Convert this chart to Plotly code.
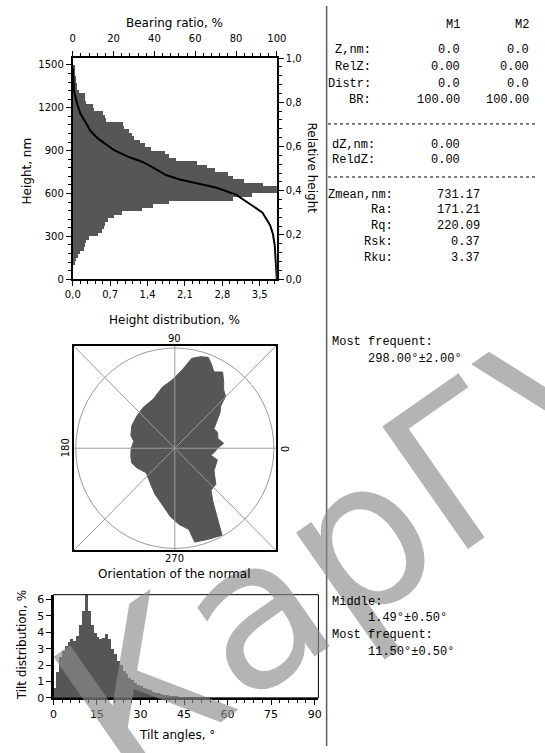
import numpy as np
import plotly.graph_objects as go

W, H = 545, 753
GRAY = "#565656"
FONT = "DejaVu Sans"
MONO = "Liberation Mono"

# ---------------- data ----------------
# Height distribution: 25 nm bins (bin centres, nm) and share of points, %
height_nm = [112.5, 137.5, 162.5, 187.5, 212.5, 237.5, 262.5, 287.5, 312.5, 337.5,
             362.5, 387.5, 412.5, 437.5, 462.5, 487.5, 512.5, 537.5, 562.5, 587.5,
             612.5, 637.5, 662.5, 687.5, 712.5, 737.5, 762.5, 787.5, 812.5, 837.5,
             862.5, 887.5, 912.5, 937.5, 962.5, 987.5, 1012.5, 1037.5, 1062.5, 1087.5,
             1112.5, 1137.5, 1162.5, 1187.5, 1212.5, 1237.5, 1262.5, 1287.5, 1312.5, 1337.5,
             1362.5, 1387.5, 1412.5, 1437.5, 1462.5, 1487.5]
height_distr = [0.03, 0.05, 0.10, 0.13, 0.20, 0.22, 0.24, 0.30, 0.47, 0.55,
                0.58, 0.60, 0.66, 0.76, 0.92, 1.30, 1.50, 1.80, 3.00, 3.35,
                3.95, 3.95, 3.55, 3.20, 3.00, 2.90, 2.65, 2.50, 2.32, 1.92,
                1.80, 1.72, 1.46, 1.35, 1.26, 1.15, 1.10, 1.05, 0.96, 0.93,
                0.62, 0.59, 0.57, 0.40, 0.37, 0.25, 0.23, 0.22, 0.12, 0.08,
                0.07, 0.06, 0.05, 0.04, 0.03, 0.02]

# Bearing ratio curve: ratio (%) vs height (nm)
bearing_ratio = [0, 0.6, 2.2, 3.8, 6.2, 8.6, 12.4, 15.7, 20.5, 26.7, 33.3, 38.1,
                 45.7, 52.0, 59.5, 70.5, 80.0, 86.0, 92.9, 96.7, 98.1, 99.0, 99.5, 100]
bearing_height = [1480, 1316, 1225, 1156, 1101, 1039, 984, 950, 901, 860, 826, 791,
                  729, 700, 674, 640, 592, 537, 468, 378, 316, 234, 120, 0]

# Orientation of the surface normal: outline angle (deg) and relative frequency
orient_deg = [92.0, 84.6, 79.2, 74.0, 69.6, 66.7, 62.6, 57.6, 53.0, 49.9,
              45.3, 42.2, 38.0, 34.0, 30.0, 26.3, 20.0, 12.7, 5.7, 0.0,
              354.0, 349.0, 345.0, 330.4, 319.0, 311.1, 305.7, 301.5, 298.8, 290.6,
              282.1, 279.9, 273.3, 266.3, 261.4, 255.2, 246.4, 237.2, 228.0, 220.3,
              206.9, 198.6, 190.0, 180.0, 170.6, 164.1, 152.7, 140.0, 127.7, 114.2,
              101.2]
orient_freq = [0.683, 0.784, 0.913, 0.950, 0.968, 0.924, 0.858, 0.901, 0.820, 0.765,
               0.728, 0.625, 0.580, 0.524, 0.470, 0.441, 0.460, 0.445, 0.495, 0.434,
               0.400, 0.370, 0.445, 0.455, 0.549, 0.557, 0.660, 0.830, 0.990, 0.970,
               0.958, 0.822, 0.762, 0.684, 0.621, 0.555, 0.500, 0.441, 0.400, 0.378,
               0.432, 0.459, 0.451, 0.440, 0.420, 0.461, 0.489, 0.500, 0.518, 0.535,
               0.626]
orient_labels = ["90", "0", "180", "270"]

# Tilt angle distribution, 1 degree bins
tilt_deg = [0.5, 1.5, 2.5, 3.5, 4.5, 5.5, 6.5, 7.5, 8.5, 9.5,
            10.5, 11.5, 12.5, 13.5, 14.5, 15.5, 16.5, 17.5, 18.5, 19.5,
            20.5, 21.5, 22.5, 23.5, 24.5, 25.5, 26.5, 27.5, 28.5, 29.5,
            30.5, 31.5, 32.5, 33.5, 34.5, 35.5, 36.5, 37.5, 38.5, 39.5,
            40.5, 41.5, 42.5, 43.5, 44.5, 45.5, 46.5, 47.5, 48.5, 49.5,
            50.5, 51.5, 52.5, 53.5, 54.5]
tilt_distr = [0.6, 1.6, 2.5, 2.9, 3.2, 3.45, 3.6, 3.5, 3.8, 4.45,
              5.35, 6.9, 5.35, 4.45, 4.0, 3.75, 3.6, 3.65, 3.9, 3.6,
              3.0, 2.7, 2.25, 2.0, 1.65, 1.45, 1.25, 1.1, 0.9, 0.8,
              0.72, 0.65, 0.58, 0.48, 0.4, 0.34, 0.3, 0.25, 0.22, 0.18,
              0.15, 0.13, 0.11, 0.09, 0.08, 0.07, 0.06, 0.05, 0.04, 0.03,
              0.03, 0.02, 0.02, 0.01, 0.01]

# Marker / statistics readout
marker_header = ["M1", "M2"]
marker_rows = [("Z,nm:", "0.0", "0.0"), ("RelZ:", "0.00", "0.00"),
               ("Distr:", "0.0", "0.0"), ("BR:", "100.00", "100.00")]
diff_rows = [("dZ,nm:", "0.00"), ("ReldZ:", "0.00")]
stat_rows = [("Zmean,nm:", "731.17"), ("Ra:", "171.21"), ("Rq:", "220.09"),
             ("Rsk:", "0.37"), ("Rku:", "3.37")]
orient_text = ["Most frequent:", "298.00°±2.00°"]
tilt_text = ["Middle:", "1.49°±0.50°", "Most frequent:", "11.50°±0.50°"]


def px(x):
    return x / W


def py(y):
    return 1 - y / H


fig = go.Figure()

# height distribution histogram
fig.add_trace(go.Bar(x=height_distr, y=height_nm, orientation="h", width=25,
                     marker=dict(color=GRAY, line=dict(width=0)),
                     xaxis="x", yaxis="y", hoverinfo="skip"))
# bearing ratio curve (top axis vs height)
fig.add_trace(go.Scatter(x=bearing_ratio, y=bearing_height, mode="lines",
                         line=dict(color="black", width=2),
                         xaxis="x2", yaxis="y", hoverinfo="skip"))
# relative height scale (right axis)
fig.add_trace(go.Scatter(x=[0, 1], y=[0, 1], mode="markers", marker=dict(opacity=0),
                         xaxis="x", yaxis="y2", hoverinfo="skip"))

# orientation rose
th = np.radians(np.array(orient_deg + orient_deg[:1]))
rr = np.array(orient_freq + orient_freq[:1])
fig.add_trace(go.Scatter(x=rr * np.cos(th), y=rr * np.sin(th), mode="lines",
                         fill="toself", fillcolor=GRAY,
                         line=dict(color=GRAY, width=1),
                         xaxis="x4", yaxis="y4", hoverinfo="skip"))

# tilt histogram
fig.add_trace(go.Bar(x=tilt_deg, y=tilt_distr, width=1,
                     marker=dict(color=GRAY, line=dict(width=0)),
                     xaxis="x3", yaxis="y3", hoverinfo="skip"))

tickfont = dict(family=FONT, size=10, color="black")
base = dict(showline=True, linecolor="black", linewidth=2, showgrid=False,
            zeroline=False, ticks="outside", tickcolor="black", tickwidth=1,
            ticklen=5, tickfont=tickfont, fixedrange=True)


def minor(d):
    return dict(ticks="outside", ticklen=3, dtick=d, tick0=0, tickcolor="black", tickwidth=1)


fig.update_layout(
    width=W, height=H, margin=dict(l=0, r=0, t=0, b=0),
    paper_bgcolor="white", plot_bgcolor="white", showlegend=False,
    bargap=0, separators=",.",
    xaxis=dict(base, domain=[px(67), px(278)], anchor="y", range=[0, 3.82],
               tick0=0, dtick=0.7, tickformat=".1f", minor=minor(0.14)),
    yaxis=dict(base, domain=[py(278), py(53)], anchor="x", range=[0, 1548],
               tick0=0, dtick=300, minor=minor(60)),
    xaxis2=dict(base, overlaying="x", side="top", anchor="y", range=[0, 100],
                tick0=0, dtick=20, minor=minor(4), ticklabelstandoff=5),
    yaxis2=dict(base, overlaying="y", side="right", anchor="x", range=[0, 1],
                tick0=0, dtick=0.2, tickformat=".1f", minor=minor(0.04)),
    xaxis3=dict(base, domain=[px(47), px(321)], anchor="y3", range=[0, 91.3],
                tick0=0, dtick=15, minor=minor(3), tickfont=dict(tickfont, size=11)),
    yaxis3=dict(base, domain=[py(704), py(599)], anchor="x3", range=[0, 6.3],
                tick0=0, dtick=1, tickfont=dict(tickfont, size=11)),
    xaxis4=dict(domain=[px(68), px(277)], anchor="y4", range=[-1.02, 1.02],
                showline=True, mirror=True, linecolor="black", linewidth=2,
                showgrid=False, zeroline=False, showticklabels=False, ticks="",
                fixedrange=True),
    yaxis4=dict(domain=[py(554), py(346)], anchor="x4", range=[-1.02, 1.02],
                showline=True, mirror=True, linecolor="black", linewidth=2,
                showgrid=False, zeroline=False, showticklabels=False, ticks="",
                fixedrange=True),
)

shapes = []
# thin top/right border of the tilt plot
shapes.append(dict(type="rect", xref="paper", yref="paper", x0=px(47), x1=px(321),
                   y0=py(704), y1=py(599), line=dict(color="black", width=1)))
# rose grid: circle, axes and diagonals
grid = dict(color="#9a9a9a", width=1)
shapes.append(dict(type="circle", xref="x4", yref="y4", x0=-1, y0=-1, x1=1, y1=1, line=grid))
for (a0, b0, a1, b1) in [(-1.02, 0, 1.02, 0), (0, -1.02, 0, 1.02),
                         (-1.02, -1.02, 1.02, 1.02), (-1.02, 1.02, 1.02, -1.02)]:
    shapes.append(dict(type="line", xref="x4", yref="y4", x0=a0, y0=b0, x1=a1, y1=b1, line=grid))
# readout panel separator and dashed dividers
shapes.append(dict(type="line", xref="paper", yref="paper", x0=px(329.5), x1=px(329.5),
                   y0=0, y1=1, line=dict(color="#5a5a5a", width=1.5)))
for yy in (120, 174):
    shapes.append(dict(type="line", xref="paper", yref="paper", x0=px(331), x1=1,
                       y0=py(yy), y1=py(yy), line=dict(color="black", width=1, dash="3px,3px")))
fig.update_layout(shapes=shapes)

ann = []


def text(x, y, s, size=12, angle=0, xa="center", family=FONT, color="black"):
    ann.append(dict(x=px(x), y=py(y), xref="paper", yref="paper", text=s,
                    showarrow=False, xanchor=xa, yanchor="middle", textangle=angle,
                    font=dict(family=family, size=size, color=color)))


# repository watermark (drawn first so the readout text sits on top)
text(352, 549, "КарГУ", size=205, angle=-35, color="rgba(140,140,140,0.65)")

# axis titles
text(172, 17, "Bearing ratio, %")
text(172, 320, "Height distribution, %")
text(20, 168, "Height, nm", angle=-90)
text(314, 165, "Relative height", angle=90)
text(172, 338, orient_labels[0], size=10)
text(286, 450, orient_labels[1], size=10, angle=90)
text(59, 450, orient_labels[2], size=10, angle=-90)
text(172, 562, orient_labels[3], size=10)
text(172, 578, "Orientation of the normal")
text(14, 650, "Tilt distribution, %", angle=-90)
text(175, 742, "Tilt angles, °")

# readout panel
MS = 12
text(470, 19, marker_header[0], size=MS, xa="right", family=MONO)
text(541, 19, marker_header[1], size=MS, xa="right", family=MONO)
for i, (lab, v1, v2) in enumerate(marker_rows):
    yy = 45 + 17 * i
    text(377, yy, lab, size=MS, xa="right", family=MONO)
    text(470, yy, v1, size=MS, xa="right", family=MONO)
    text(541, yy, v2, size=MS, xa="right", family=MONO)
for i, (lab, v) in enumerate(diff_rows):
    yy = 141 + 16 * i
    text(333, yy, lab, size=MS, xa="left", family=MONO)
    text(470, yy, v, size=MS, xa="right", family=MONO)
for i, (lab, v) in enumerate(stat_rows):
    yy = 192 + 16 * i
    text(400, yy, lab, size=MS, xa="right", family=MONO)
    text(490, yy, v, size=MS, xa="right", family=MONO)
text(333, 342, orient_text[0], size=MS, xa="left", family=MONO)
text(370, 359, orient_text[1], size=MS, xa="left", family=MONO)
for i, s in enumerate(tilt_text):
    text(333 if i % 2 == 0 else 370, 606 + 17 * i, s, size=MS, xa="left", family=MONO)

fig.update_layout(annotations=ann)
fig.write_html("out.html")
